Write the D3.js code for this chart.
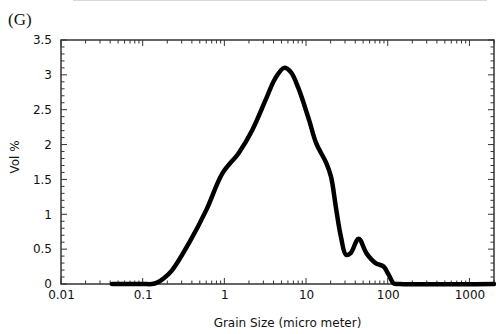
<!DOCTYPE html>
<html lang="en">
<head>
<meta charset="UTF-8">
<title>Grain size</title>
<style>
  body{margin:0;background:#fff;}
  svg{display:block;}
  text{font-family:"DejaVu Sans",sans-serif;fill:#111;}
</style>
<script src="https://cdn.jsdelivr.net/npm/d3@7"></script>
</head>
<body>
<div id="draw"></div>
<script>
// grain size (micro meter) and volume %
var sizes = [0.042, 0.1, 0.13, 0.15, 0.18, 0.23, 0.37, 0.6, 0.95, 1.5, 2.2, 3.2, 4.2, 5.4, 6.5, 8.0, 10.9, 13.3, 17.6, 20.2, 23.2, 26.8, 30.8, 35, 44, 55, 71, 89, 103, 118, 140, 2000];
var vols  = [0,     0,   0,    0.02, 0.08, 0.2,  0.59, 1.06, 1.59, 1.88, 2.21, 2.64, 2.95, 3.10, 3.04, 2.82, 2.35, 2.02, 1.74, 1.54, 1.10, 0.67, 0.42, 0.44, 0.65, 0.44, 0.30, 0.25, 0.13, 0.01, 0, 0];
var xMajor = [0.01, 0.1, 1, 10, 100, 1000];
var xLabels = ["0.01", "0.1", "1", "10", "100", "1000"];
var yMajor = [0, 0.5, 1, 1.5, 2, 2.5, 3, 3.5];
var yLabels = ["0", "0.5", "1", "1.5", "2", "2.5", "3", "3.5"];

var W = 496, H = 334;
var pL = 61, pR = 494, pT = 40, pB = 284;

var svg = d3.select("#draw").append("svg").attr("width", W).attr("height", H);

// faint line at the very top
svg.append("line").attr("x1", 73).attr("x2", 487).attr("y1", 0.5).attr("y2", 0.5)
   .attr("stroke", "#d8d8d8").attr("stroke-width", 1);

var x = d3.scaleLog().domain([0.01, 2000]).range([pL, pR]);
var y = d3.scaleLinear().domain([0, 3.5]).range([pB, pT]);

var xMinor = [];
xMajor.forEach(function(d){
  for (var k = 2; k <= 9; k++) { if (d * k <= 2000) xMinor.push(d * k); }
});
var yMinor = d3.range(0, 35).filter(function(i){ return i % 5 !== 0; }).map(function(i){ return i / 10; });

// frame
svg.append("rect").attr("x", pL).attr("y", pT)
  .attr("width", pR - pL).attr("height", pB - pT)
  .attr("fill", "none").attr("stroke", "#333").attr("stroke-width", 1.5);

function styleAxis(g){
  g.select(".domain").remove();
  g.selectAll(".tick text").style("font-size", "12px");
}

// ticks, all pointing inward
var tg = svg.append("g").attr("stroke", "#333").attr("stroke-width", 1);
xMajor.map(function(v){ return [v, 6]; }).concat(xMinor.map(function(v){ return [v, 3.5]; }))
  .forEach(function(t){
    var px = x(t[0]);
    tg.append("line").attr("x1", px).attr("x2", px).attr("y1", pB).attr("y2", pB - t[1]);
    tg.append("line").attr("x1", px).attr("x2", px).attr("y1", pT).attr("y2", pT + t[1]);
  });
yMajor.map(function(v){ return [v, 6]; }).concat(yMinor.map(function(v){ return [v, 3.5]; }))
  .forEach(function(t){
    var py = y(t[0]);
    tg.append("line").attr("y1", py).attr("y2", py).attr("x1", pL).attr("x2", pL + t[1]);
    tg.append("line").attr("y1", py).attr("y2", py).attr("x1", pR).attr("x2", pR - t[1]);
  });

// tick labels
svg.append("g").attr("transform", "translate(0," + pB + ")")
  .call(d3.axisBottom(x).tickValues(xMajor).tickSize(0).tickPadding(6)
    .tickFormat(function(d, i){ return xLabels[i]; }))
  .call(styleAxis);
svg.append("g").attr("transform", "translate(" + pL + ",0)")
  .call(d3.axisLeft(y).tickValues(yMajor).tickSize(0).tickPadding(9)
    .tickFormat(function(d, i){ return yLabels[i]; }))
  .call(styleAxis);

// curve
var line = d3.line()
  .x(function(d){ return x(d[0]); })
  .y(function(d){ return y(d[1]); })
  .curve(d3.curveCatmullRom.alpha(0.5));
svg.append("path")
  .datum(d3.zip(sizes, vols))
  .attr("d", line)
  .attr("fill", "none")
  .attr("stroke", "#000")
  .attr("stroke-width", 4.5)
  .attr("stroke-linejoin", "round")
  .attr("stroke-linecap", "round");

// labels
svg.append("text").attr("x", (pL + pR) / 2 + 10).attr("y", 327)
  .attr("text-anchor", "middle").style("font-size", "12px")
  .text("Grain Size (micro meter)");
svg.append("text").attr("transform", "translate(19,157) rotate(-90)")
  .attr("text-anchor", "middle").style("font-size", "12px")
  .text("Vol %");
svg.append("text").attr("x", 8).attr("y", 25)
  .style("font-family", "'Liberation Serif', serif").style("font-size", "17px")
  .text("(G)");
</script>
</body>
</html>
